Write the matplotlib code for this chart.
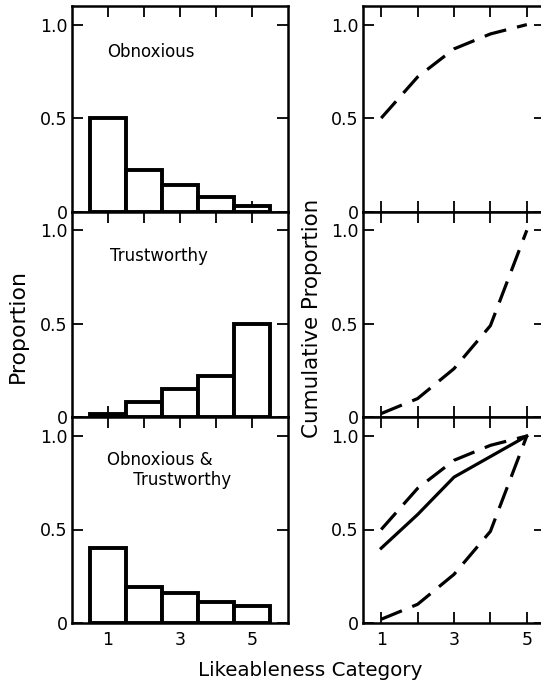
import matplotlib
matplotlib.use("Agg")
import matplotlib.pyplot as plt
import numpy as np

plt.rcParams['font.family'] = ['DejaVu Sans']

categories = [1, 2, 3, 4, 5]
panel_titles = ["Obnoxious", "Trustworthy", "Obnoxious &\n     Trustworthy"]

prop_obnoxious = [0.50, 0.22, 0.14, 0.08, 0.03]
prop_trustworthy = [0.02, 0.08, 0.15, 0.22, 0.50]
prop_both = [0.40, 0.19, 0.16, 0.11, 0.09]

cum_obnoxious = [0.50, 0.72, 0.87, 0.95, 1.00]
cum_trustworthy = [0.02, 0.10, 0.26, 0.49, 1.00]
cum_both = [0.40, 0.58, 0.78, 0.89, 1.00]

yticks = [0, 0.5, 1.0]
yticklabels = ["0", "0.5", "1.0"]
xticklabels = ["1", "", "3", "", "5"]

W, H = 541, 685
fig = plt.figure(figsize=(W / 100, H / 100), dpi=100)
fig.patch.set_facecolor("white")

bottom0 = 1 - 623 / H
ph = 205.7 / H
left_l, width_l = 72 / W, 216 / W
left_r, width_r = 363 / W, 182 / W

bars = [prop_obnoxious, prop_trustworthy, prop_both]
dash = (0, (7, 3.5))
title_pos = [(0.162, 0.778), (0.176, 0.783), (0.162, 0.835)]


def style(ax, xlim, last):
    ax.set_xlim(*xlim)
    ax.set_ylim(0, 1.1)
    ax.set_yticks(yticks)
    ax.set_yticklabels(yticklabels)
    ax.set_xticks(categories)
    ax.set_xticklabels(xticklabels if last else [])
    ax.tick_params(axis="both", direction="in", top=True, right=True,
                   length=8, width=1.3, labelsize=12.5, pad=3)
    ax.tick_params(axis="x", pad=6)
    for s in ax.spines.values():
        s.set_linewidth(1.8)


for i in range(3):
    b = bottom0 + (2 - i) * ph
    axl = fig.add_axes([left_l, b, width_l, ph])
    axl.bar(categories, bars[i], width=1.0, facecolor="white",
            edgecolor="black", linewidth=2.8, zorder=3)
    style(axl, (0, 6), i == 2)
    tx, ty = title_pos[i]
    axl.text(tx, ty, panel_titles[i], transform=axl.transAxes, fontsize=12,
             ha="left", va="center" if i != 2 else "top", linespacing=1.1)

    axr = fig.add_axes([left_r, b, width_r, ph])
    style(axr, (0.5, 5.5), i == 2)
    if i == 0:
        axr.plot(categories, cum_obnoxious, color="black", lw=2.3, ls=dash)
    elif i == 1:
        axr.plot(categories, cum_trustworthy, color="black", lw=2.3, ls=dash)
    else:
        axr.plot(categories, cum_obnoxious, color="black", lw=2.3, ls=dash)
        axr.plot(categories, cum_trustworthy, color="black", lw=2.3, ls=dash)
        axr.plot(categories, cum_both, color="black", lw=2.3, ls="-")

fig.text(18 / W, 1 - 326 / H, "Proportion", rotation=90, ha="center",
         va="center", fontsize=15.8)
fig.text(312 / W, 1 - 318 / H, "Cumulative Proportion", rotation=90,
         ha="center", va="center", fontsize=15.4)
fig.text(310 / W, 1 - 671 / H, "Likeableness Category", ha="center",
         va="center", fontsize=14.3)

fig.savefig("out.png", dpi=100, facecolor="white")
